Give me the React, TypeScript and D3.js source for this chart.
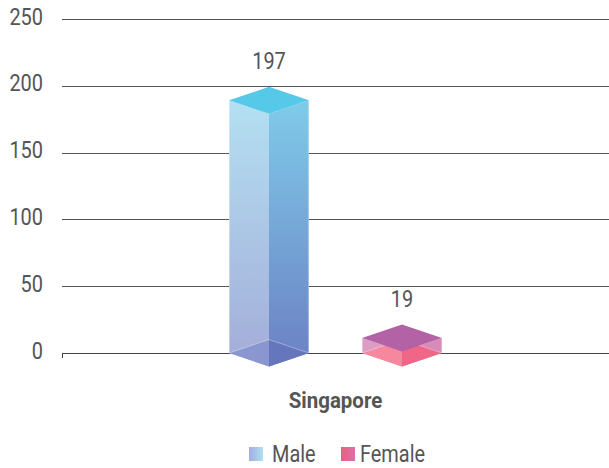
import React, { useEffect, useRef } from 'react';
import * as d3 from 'd3';

const categories = ['Singapore'];
const seriesNames = ['Male', 'Female'];
const maleValues = [197];
const femaleValues = [19];
const yTicks = [0, 50, 100, 150, 200, 250];

const PALETTE: Record<string, any> = {
  Male: {
    top: '#57c9e8',
    leftTop: '#b4e0f2', leftBot: '#a3acd8',
    rightTop: '#7fcbea', rightBot: '#6b80c3',
    botLeft: '#8a96cf', botRight: '#6676bd',
    swA: '#a2acdc', swB: '#aee2f2'
  },
  Female: {
    top: '#b462a6',
    leftTop: '#dc9cc4', leftBot: '#dc9cc4',
    rightTop: '#d88ab8', rightBot: '#d88ab8',
    botLeft: '#f5889c', botRight: '#ef6686',
    swA: '#ea5f82', swB: '#dc72a6'
  }
};

const FONT = 'Roboto, "Liberation Sans", sans-serif';
const NARROW = 0.83;

// narrow text: roboto squeezed horizontally to look like a condensed face
function narrowText(parent: any, x: number, y: number, str: any, opts: any = {}) {
  const g = parent.append('g')
    .attr('transform', `translate(${x},${y}) scale(${opts.sx ?? NARROW},1)`);
  g.append('text')
    .attr('text-anchor', opts.anchor ?? 'start')
    .attr('font-family', FONT)
    .attr('font-size', opts.size ?? 24)
    .attr('font-weight', opts.weight ?? 'normal')
    .attr('fill', '#555')
    .text(str);
  return g;
}

export default function App() {
  const svgRef = useRef<SVGSVGElement>(null);

  useEffect(() => {
    const W = 609, H = 468;
    const svg = d3.select(svgRef.current);
    svg.selectAll('*').remove();
    svg.attr('width', W).attr('height', H);

    const left = 62, right = 609;
    const y = d3.scaleLinear().domain([0, 250]).range([353, 19]);
    const x0 = d3.scaleBand().domain(categories).range([left, right]).padding(0);
    const x1 = d3.scaleBand().domain(seriesNames).range([0, x0.bandwidth()])
      .paddingInner(0.4).paddingOuter(1.256);

    const defs = svg.append('defs');

    // grid + y labels
    const grid = svg.append('g');
    yTicks.forEach(t => {
      grid.append('line')
        .attr('x1', left).attr('x2', right)
        .attr('y1', Math.round(y(t)) + 0.5).attr('y2', Math.round(y(t)) + 0.5)
        .attr('stroke', t === 0 ? '#444' : '#555').attr('stroke-width', 1);
      narrowText(grid, 43, y(t) + 5.5, t, { anchor: 'end' });
    });
    grid.append('line')
      .attr('x1', left + 0.5).attr('x2', left + 0.5)
      .attr('y1', y(0)).attr('y2', y(0) + 5)
      .attr('stroke', '#444');

    const dh = 13.5;
    const series = [
      { name: 'Male', values: maleValues },
      { name: 'Female', values: femaleValues }
    ];

    series.forEach(s => {
      const c = PALETTE[s.name];
      ['left', 'right'].forEach(side => {
        const g = defs.append('linearGradient').attr('id', `g-${s.name}-${side}`)
          .attr('x1', 0).attr('y1', 0).attr('x2', 0).attr('y2', 1);
        g.append('stop').attr('offset', '0%').attr('stop-color', c[side + 'Top']);
        g.append('stop').attr('offset', '100%').attr('stop-color', c[side + 'Bot']);
      });

      categories.forEach((cat, i) => {
        const v = s.values[i];
        const bx = (x0(cat) as number) + (x1(s.name) as number);
        const bw = x1.bandwidth();
        const cx = bx + bw / 2;
        const lx = bx, rx = bx + bw;
        const yb = y(0);              // bottom diamond center
        const yt = y(v) + dh - 3;     // top diamond center
        const g = svg.append('g');

        const poly = (pts: number[][]) => pts.map(p => p.join(',')).join(' ');

        // side faces
        g.append('polygon')
          .attr('points', poly([[lx, yt], [cx, yt + dh], [cx, yb + dh], [lx, yb]]))
          .attr('fill', `url(#g-${s.name}-left)`);
        g.append('polygon')
          .attr('points', poly([[cx, yt + dh], [rx, yt], [rx, yb], [cx, yb + dh]]))
          .attr('fill', `url(#g-${s.name}-right)`);

        // bottom diamond seen through the faces
        g.append('polygon')
          .attr('points', poly([[lx, yb], [cx, yb - dh], [cx, yb + dh]]))
          .attr('fill', c.botLeft);
        g.append('polygon')
          .attr('points', poly([[cx, yb - dh], [rx, yb], [cx, yb + dh]]))
          .attr('fill', c.botRight);
        g.append('polyline')
          .attr('points', poly([[lx, yb], [cx, yb - dh], [rx, yb]]))
          .attr('fill', 'none').attr('stroke', '#fff').attr('stroke-opacity', 0.35);

        g.append('line').attr('x1', lx + 0.5).attr('x2', lx + 0.5).attr('y1', yt).attr('y2', yb)
          .attr('stroke', '#fff').attr('stroke-opacity', 0.3);
        g.append('line').attr('x1', rx - 0.5).attr('x2', rx - 0.5).attr('y1', yt).attr('y2', yb)
          .attr('stroke', '#fff').attr('stroke-opacity', 0.3);

        // top diamond
        g.append('polygon')
          .attr('points', poly([[cx, yt - dh], [rx, yt], [cx, yt + dh], [lx, yt]]))
          .attr('fill', c.top);

        narrowText(g, cx, yt - dh - 17.5, v, { anchor: 'middle' });
      });
    });

    // category label
    categories.forEach(cat => {
      narrowText(svg, (x0(cat) as number) + x0.bandwidth() / 2, 408, cat,
        { anchor: 'middle', size: 22, weight: 'bold', sx: 0.93 });
    });

    // legend
    const legendX = [249, 341];
    series.forEach((s, i) => {
      const c = PALETTE[s.name];
      const g = defs.append('linearGradient').attr('id', `sw-${s.name}`)
        .attr('x1', 0).attr('y1', 0).attr('x2', 1).attr('y2', 0);
      g.append('stop').attr('offset', '0%').attr('stop-color', c.swA);
      g.append('stop').attr('offset', '100%').attr('stop-color', c.swB);
      const lg = svg.append('g').attr('transform', `translate(${legendX[i]},447)`);
      lg.append('rect').attr('width', 14).attr('height', 14).attr('fill', `url(#sw-${s.name})`);
      narrowText(lg, i === 0 ? 23 : 19, 14.5, s.name);
    });
  }, []);

  return (
    <div style={{ position: 'absolute', left: 0, top: 0, width: 609, height: 468, background: '#fff' }}>
      <svg ref={svgRef} style={{ display: 'block' }} />
    </div>
  );
}
